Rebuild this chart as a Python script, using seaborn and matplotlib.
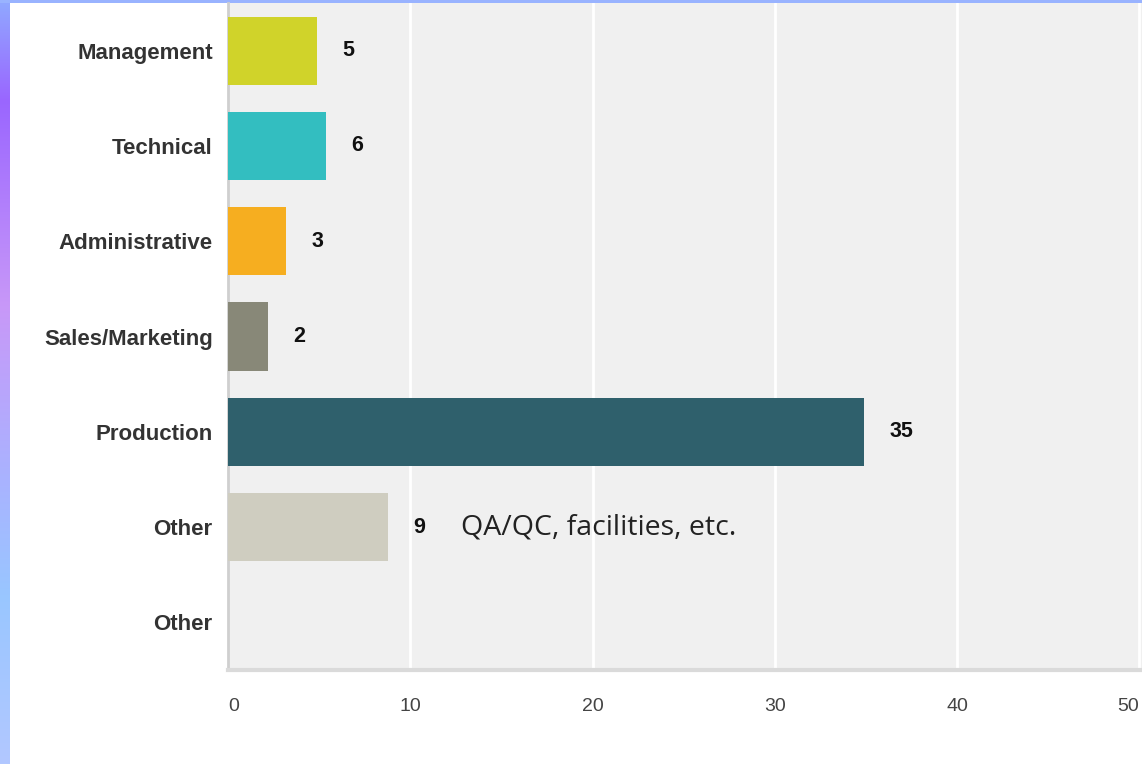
import numpy as np
import pandas as pd
import seaborn as sns
import matplotlib.pyplot as plt
from matplotlib.colors import LinearSegmentedColormap

# data
categories = ['Management', 'Technical', 'Administrative', 'Sales/Marketing',
              'Production', 'Other', 'Other']
bar_values = [4.9, 5.4, 3.2, 2.2, 34.9, 8.8, 0]
bar_labels = ['5', '6', '3', '2', '35', '9', '']
bar_colors = ['#d0d32a', '#33bec0', '#f6ae20', '#888878', '#2f606c', '#cfcdc0', '#cfcdc0']
x_ticks = [0, 10, 20, 30, 40, 50]
note = 'QA/QC, facilities, etc.'

df = pd.DataFrame({'key': [f'c{i}' for i in range(len(categories))],
                   'value': bar_values})

sns.set_style('white')
plt.rcParams['font.family'] = ['Liberation Sans', 'DejaVu Sans']

fig = plt.figure(figsize=(11.42, 7.64), dpi=100)
fig.patch.set_facecolor('white')

#%% decorative frame: gradient strip on the left, blue line on top
strip = fig.add_axes([0, 0, 10/1142, 1])
cmap = LinearSegmentedColormap.from_list('strip', [
    (0.0, '#90a8ff'), (0.13, '#9a66ff'), (0.40, '#c898f8'),
    (0.62, '#aab2ff'), (0.78, '#99c6ff'), (1.0, '#b2c8ff')])
strip.imshow(np.linspace(0, 1, 256).reshape(-1, 1), aspect='auto', cmap=cmap)
strip.axis('off')
top = fig.add_axes([0, 1 - 3/764, 1, 3/764])
top.set_facecolor('#99b3ff')
top.set_xticks([]); top.set_yticks([])
for s in top.spines.values():
    s.set_visible(False)

#%% main bar chart
ax = fig.add_axes([228/1142, 1 - 670/764, 1 - 228/1142, (670 - 3)/764])
ax.set_facecolor('#f0f0f0')
sns.barplot(data=df, x='value', y='key', hue='key', palette=bar_colors,
            legend=False, orient='h', width=0.715, saturation=1, ax=ax,
            linewidth=0, zorder=3)

ax.set_xlim(0, 50.15)
ax.set_ylim(6.5, -0.5)
ax.set_xticks(x_ticks)
ax.set_xticklabels([str(t) for t in x_ticks], fontsize=14, color='#444444')
ax.get_xticklabels()[0].set_ha('left')
ax.get_xticklabels()[-1].set_ha('right')
ax.set_yticks(range(len(categories)))
ax.set_yticklabels(categories, fontsize=16, fontweight='bold', color='#333333')
ax.tick_params(axis='x', length=0, pad=20)
ax.tick_params(axis='y', length=0, pad=11)
ax.set_xlabel('')
ax.set_ylabel('')

for t in x_ticks[1:]:
    ax.axvline(t, color='white', lw=2, zorder=1)

for s in ['top', 'right']:
    ax.spines[s].set_visible(False)
ax.spines['left'].set_color('#cfcfcf')
ax.spines['left'].set_linewidth(2)
ax.spines['bottom'].set_color('#dadada')
ax.spines['bottom'].set_linewidth(3)

# value labels next to bars
for i, (v, lab) in enumerate(zip(bar_values, bar_labels)):
    if lab:
        ax.annotate(lab, (v, i), xytext=(18, 0), textcoords='offset points',
                    va='center', ha='left', fontsize=15.5, fontweight='bold',
                    color='#111111', zorder=5)

ax.annotate(note, (bar_values[5], 5), xytext=(52, 0), textcoords='offset points',
            va='center', ha='left', fontsize=20.5, color='#222222',
            family=['Open Sans', 'DejaVu Sans'], zorder=5)

fig.savefig('out.png', dpi=100)
